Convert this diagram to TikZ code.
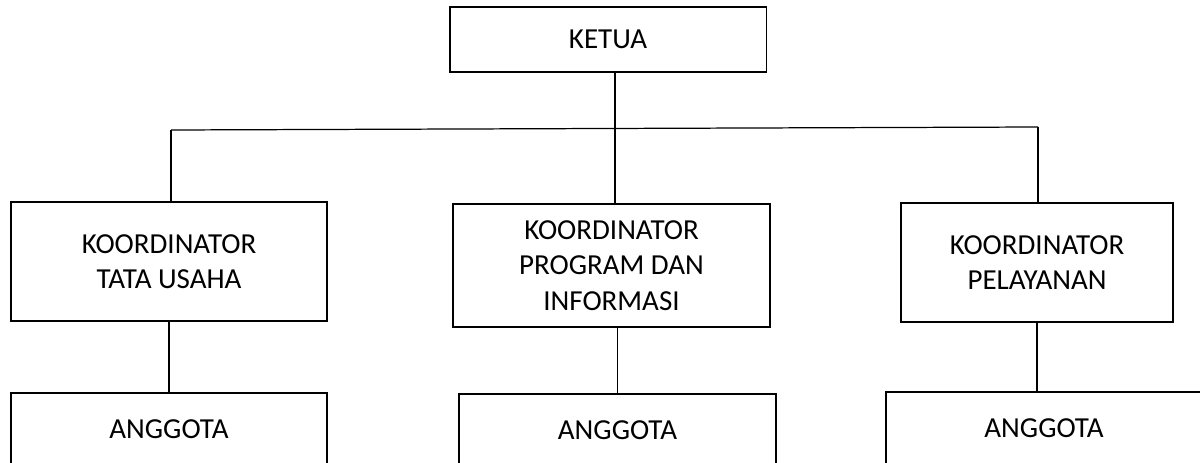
\documentclass[tikz,border=0pt]{standalone}
\usepackage{fontspec}
\setmainfont{Carlito}
\usetikzlibrary{positioning}

\begin{document}
\begin{tikzpicture}[
    x=0.02cm, y=-0.02cm,
    box/.style={draw, rectangle, line width=1.1pt, inner sep=0pt, align=center, minimum width=6.34cm, font=\fontsize{16.5}{20.2}\selectfont},
    link/.style={line width=0.7pt}
]

\useasboundingbox (0,0) rectangle (1200,463);
\clip (0,0) rectangle (1200,463);

% Ketua
\node[box, minimum height=1.3cm] (ketua) at (608,39.5) {KETUA};

% Koordinator
\node[box, minimum width=6.32cm, minimum height=2.38cm] (koor1) at (169,261.5) {KOORDINATOR\\TATA USAHA};
\node[box, minimum height=2.46cm] (koor2) at (611.5,265.5) {KOORDINATOR\\PROGRAM DAN\\INFORMASI};
\node[box, minimum width=5.44cm, minimum height=2.38cm] (koor3) at (1037,262.5) {KOORDINATOR\\PELAYANAN};

% Anggota
\node[box, minimum width=6.32cm, minimum height=1.44cm] (ang1) at (169,429) {ANGGOTA};
\node[box, minimum height=1.44cm] (ang2) at (617.5,430) {ANGGOTA};
\node[box, minimum width=6.32cm, minimum height=1.44cm] (ang3) at (1044,428) {ANGGOTA};

% Garis penghubung
\coordinate (busL) at (171,130);
\coordinate (busM) at (615,129);
\coordinate (busR) at (1038,127);

\draw[link] (busL) -- (busR);
\draw[link] (ketua.south -| busM) -- (koor2.north -| busM);
\draw[link] (busL) -- (koor1.north -| busL);
\draw[link] (busR) -- (koor3.north -| busR);

\draw[link] (koor1.south) -- (ang1.north);
\draw[link] (ang2.north |- koor2.south) -- (ang2.north);
\draw[link] (koor3.south) -- (koor3.south |- ang3.north);

\end{tikzpicture}
\end{document}
